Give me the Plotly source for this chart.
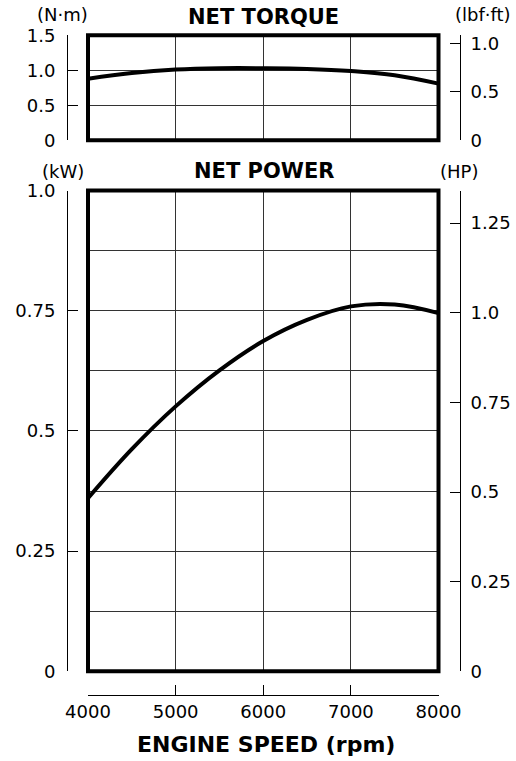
import plotly.graph_objects as go

W, H = 516, 761

rpm = [4000, 4500, 5000, 5500, 6000, 6500, 7000, 7500, 8000]
torque_nm = [0.88, 0.96, 1.01, 1.03, 1.03, 1.02, 0.99, 0.93, 0.81]
power_kw = [0.36, 0.462, 0.551, 0.626, 0.687, 0.731, 0.759, 0.763, 0.745]

x_ticks = [4000, 5000, 6000, 7000, 8000]
x_ticktext = ["4000", "5000", "6000", "7000", "8000"]
nm_ticks = [0, 0.5, 1.0, 1.5]
nm_text = ["0", "0.5", "1.0", "1.5"]
lbf_ticks = [0, 0.5, 1.0]
lbf_text = ["0", "0.5", "1.0"]
kw_ticks = [0, 0.25, 0.5, 0.75, 1.0]
kw_text = ["0", "0.25", "0.5", "0.75", "1.0"]
hp_ticks = [0, 0.25, 0.5, 0.75, 1.0, 1.25]
hp_text = ["0", "0.25", "0.5", "0.75", "1.0", "1.25"]

FONT = "DejaVu Sans"
tickfont = dict(family=FONT, size=18, color="black")

def px_x(p):
    return p / W

def px_y(p):
    return 1 - p / H

xdom = [px_x(88), px_x(438.5)]
top_dom = [px_y(140.3), px_y(35.3)]
bot_dom = [px_y(671.3), px_y(190.5)]

fig = go.Figure()
fig.add_trace(go.Scatter(x=rpm, y=torque_nm, mode="lines", xaxis="x", yaxis="y",
                         line=dict(color="black", width=4, shape="spline", smoothing=1.1),
                         hoverinfo="skip"))
fig.add_trace(go.Scatter(x=rpm, y=power_kw, mode="lines", xaxis="x2", yaxis="y2",
                         line=dict(color="black", width=4, shape="spline", smoothing=1.1),
                         hoverinfo="skip"))
# helper traces so that the side axes are drawn
for xa, ya in [("x", "y3"), ("x", "y4"), ("x2", "y5"), ("x2", "y6"), ("x3", "y2")]:
    fig.add_trace(go.Scatter(x=[None], y=[None], xaxis=xa, yaxis=ya, mode="lines",
                             showlegend=False, hoverinfo="skip"))

grid = dict(showgrid=True, gridcolor="#333", gridwidth=1, showticklabels=False,
            ticks="", showline=False, zeroline=False, fixedrange=True, automargin=False)

side = dict(showgrid=False, zeroline=False, showline=True, linecolor="black", linewidth=1,
            ticks="inside", ticklen=10, tickcolor="black", tickwidth=1, tickfont=tickfont,
            tickmode="array", anchor="free", fixedrange=True, automargin=False)

fig.update_layout(
    width=W, height=H, autosize=False,
    margin=dict(l=0, r=0, t=0, b=0, pad=0),
    paper_bgcolor="white", plot_bgcolor="white",
    showlegend=False,
    xaxis=dict(domain=xdom, range=[4000, 8000], anchor="y", tickvals=[5000, 6000, 7000], **grid),
    yaxis=dict(domain=top_dom, range=[0, 1.5], anchor="x", tickvals=[0.5, 1.0], **grid),
    xaxis2=dict(domain=xdom, range=[4000, 8000], anchor="y2", tickvals=[5000, 6000, 7000], **grid),
    yaxis2=dict(domain=bot_dom, range=[0, 1.0], anchor="x2",
                tickvals=[0.125, 0.25, 0.375, 0.5, 0.625, 0.75, 0.875], **grid),
    yaxis3=dict(overlaying="y", side="left", position=px_x(67), range=[0, 1.5],
                tickvals=nm_ticks, ticktext=nm_text, ticklabelstandoff=8, **side),
    yaxis4=dict(overlaying="y", side="right", position=px_x(460), range=[0, 1.085],
                tickvals=lbf_ticks, ticktext=lbf_text, ticklabelstandoff=6, **side),
    yaxis5=dict(overlaying="y2", side="left", position=px_x(67), range=[0, 1.0],
                tickvals=kw_ticks, ticktext=kw_text, ticklabelstandoff=8, **side),
    yaxis6=dict(overlaying="y2", side="right", position=px_x(460), range=[0, 1.341],
                tickvals=hp_ticks, ticktext=hp_text, ticklabelstandoff=6, **side),
    xaxis3=dict(overlaying="x2", side="bottom", position=px_y(695), range=[4000, 8000],
                tickvals=x_ticks, ticktext=x_ticktext, **side),
)

for xr, yr in [("x domain", "y domain"), ("x2 domain", "y2 domain")]:
    fig.add_shape(type="rect", xref=xr, yref=yr, x0=0, x1=1, y0=0, y1=1,
                  line=dict(color="black", width=4), layer="above")

def ann(text, x, y, size=18, bold=False):
    fig.add_annotation(text=f"<b>{text}</b>" if bold else text, x=px_x(x), y=px_y(y),
                       xref="paper", yref="paper", showarrow=False,
                       xanchor="center", yanchor="middle",
                       font=dict(family=FONT, size=size, color="black"))

ann("NET TORQUE", 263.5, 17, size=21, bold=True)
ann("NET POWER", 263.5, 171, size=21, bold=True)
ann("(N·m)", 62, 15)
ann("(lbf·ft)", 483, 15)
ann("(kW)", 63, 171)
ann("(HP)", 459, 171)
ann("ENGINE SPEED (rpm)", 265.5, 744, size=22, bold=True)

fig.write_html("out.html", config={"displayModeBar": False, "staticPlot": True},
               post_script="document.body.style.margin='0';")
